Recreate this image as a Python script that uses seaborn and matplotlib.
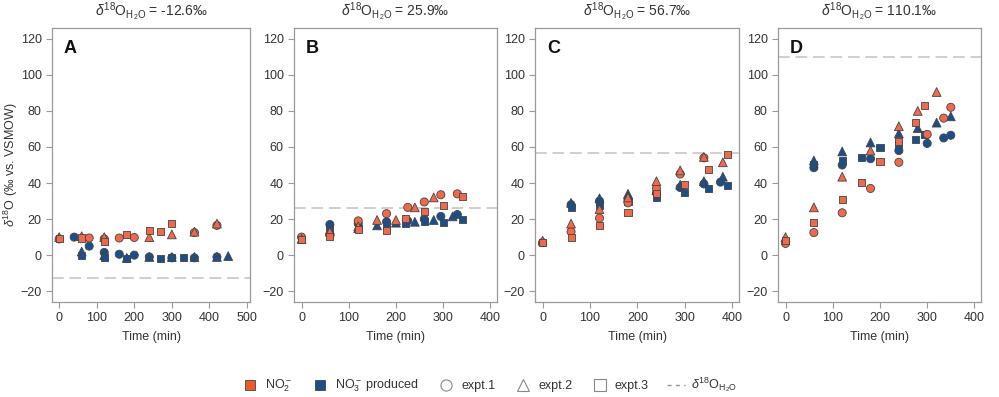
import matplotlib
matplotlib.use("Agg")
import matplotlib.pyplot as plt
from matplotlib.lines import Line2D
import seaborn as sns
import pandas as pd

sns.set_theme(style="ticks")
plt.rcParams["font.family"] = ["Liberation Sans", "DejaVu Sans"]
plt.rcParams["mathtext.fontset"] = "custom"
plt.rcParams["mathtext.rm"] = "Liberation Sans"
plt.rcParams["mathtext.it"] = "Liberation Sans:italic"
plt.rcParams["mathtext.bf"] = "Liberation Sans:bold"

# ── data ────────────────────────────────────────────────────────────────
PANELS = ["A", "B", "C", "D"]
WATER_D18O = [-12.6, 25.9, 56.7, 110.1]
WATER_TXT = ["-12.6", "25.9", "56.7", "110.1"]
X_TICKS = [[0, 100, 200, 300, 400, 500], [0, 100, 200, 300, 400],
           [0, 100, 200, 300, 400], [0, 100, 200, 300, 400]]
Y_TICKS = [-20, 0, 20, 40, 60, 80, 100, 120]

# panel A
a_no2_e1_t = [0, 80, 120, 160, 200, 360, 420]
a_no2_e1_v = [9, 9.5, 9, 9.5, 9.8, 12.5, 16.5]
a_no2_e2_t = [0, 60, 120, 240, 300, 360, 420]
a_no2_e2_v = [10, 10.5, 10, 10, 11.5, 13, 17.5]
a_no2_e3_t = [0, 60, 120, 180, 240, 270, 300]
a_no2_e3_v = [9, 9.5, 7.5, 11.5, 13.5, 13, 17.5]
a_no3_e1_t = [40, 80, 120, 160, 200, 240, 300, 360, 420]
a_no3_e1_v = [10, 5, 1.5, 0.5, 0, -1, -1.5, -1.5, -1]
a_no3_e2_t = [60, 120, 180, 240, 300, 360, 420, 450]
a_no3_e2_v = [2, 0, -1.5, -1, -1, -1, -1, -0.5]
a_no3_e3_t = [60, 120, 180, 270, 300, 330]
a_no3_e3_v = [0, -1.5, -2, -2, -1.5, -1.5]

# panel B
b_no2_e1_t = [0, 60, 120, 180, 225, 260, 295, 330]
b_no2_e1_v = [10, 11.5, 19, 23, 26.5, 29.5, 33.5, 34]
b_no2_e2_t = [0, 60, 120, 160, 200, 240, 280]
b_no2_e2_v = [9, 13, 16, 19.5, 19.5, 26.5, 32]
b_no2_e3_t = [0, 60, 120, 180, 220, 260, 300, 340]
b_no2_e3_v = [8.5, 10.5, 14, 13.5, 20.5, 24, 27.5, 32.5]
b_no3_e1_t = [60, 120, 180, 225, 260, 295, 330]
b_no3_e1_v = [17, 17.5, 18.5, 19, 20, 21.5, 22.5]
b_no3_e2_t = [60, 120, 160, 200, 240, 280, 320]
b_no3_e2_v = [14, 15, 16.5, 18, 18.5, 19.5, 21.5]
b_no3_e3_t = [60, 120, 180, 220, 260, 300, 340]
b_no3_e3_v = [15, 15, 16.5, 17.5, 18.5, 18, 20]

# panel C
c_no2_e1_t = [0, 60, 120, 180, 240, 290, 340]
c_no2_e1_v = [7, 13, 20.5, 29, 37, 45, 54]
c_no2_e2_t = [0, 60, 120, 180, 240, 290, 340, 380]
c_no2_e2_v = [8, 17.5, 25.5, 32, 41, 47, 54.5, 51.5]
c_no2_e3_t = [0, 60, 120, 180, 240, 300, 350, 390]
c_no2_e3_v = [7, 10, 16.5, 23.5, 34, 39, 47.5, 56]
c_no3_e1_t = [60, 120, 180, 240, 290, 340, 375]
c_no3_e1_v = [28, 30, 31, 34.5, 37.5, 39.5, 40.5]
c_no3_e2_t = [60, 120, 180, 240, 290, 340, 380]
c_no3_e2_v = [29, 31.5, 34, 36, 39, 41, 43.5]
c_no3_e3_t = [60, 120, 180, 240, 300, 350, 390]
c_no3_e3_v = [26.5, 27.5, 30, 32, 34.5, 37, 38.5]

# panel D
d_no2_e1_t = [0, 60, 120, 180, 240, 300, 335, 350]
d_no2_e1_v = [6.5, 12.5, 23.5, 37, 51.5, 67, 76, 82]
d_no2_e2_t = [0, 60, 120, 180, 240, 280, 320]
d_no2_e2_v = [10, 26.5, 43.5, 58, 71.5, 80, 90.5]
d_no2_e3_t = [0, 60, 120, 160, 200, 240, 275, 295]
d_no2_e3_v = [8, 18, 31, 40.5, 52, 63, 73.5, 83]
d_no3_e1_t = [60, 120, 180, 240, 300, 335, 350]
d_no3_e1_v = [48.5, 50, 53.5, 58, 62, 65, 66.5]
d_no3_e2_t = [60, 120, 180, 240, 280, 320, 350]
d_no3_e2_v = [52.5, 57.5, 62.5, 67.5, 70.5, 73.5, 77]
d_no3_e3_t = [60, 120, 160, 200, 240, 275, 295]
d_no3_e3_v = [50, 52.5, 54, 59.5, 61.5, 64, 67]

SERIES = {
    "A": [("NO3", "expt.1", a_no3_e1_t, a_no3_e1_v), ("NO3", "expt.2", a_no3_e2_t, a_no3_e2_v),
          ("NO3", "expt.3", a_no3_e3_t, a_no3_e3_v), ("NO2", "expt.1", a_no2_e1_t, a_no2_e1_v),
          ("NO2", "expt.2", a_no2_e2_t, a_no2_e2_v), ("NO2", "expt.3", a_no2_e3_t, a_no2_e3_v)],
    "B": [("NO3", "expt.1", b_no3_e1_t, b_no3_e1_v), ("NO3", "expt.2", b_no3_e2_t, b_no3_e2_v),
          ("NO3", "expt.3", b_no3_e3_t, b_no3_e3_v), ("NO2", "expt.1", b_no2_e1_t, b_no2_e1_v),
          ("NO2", "expt.2", b_no2_e2_t, b_no2_e2_v), ("NO2", "expt.3", b_no2_e3_t, b_no2_e3_v)],
    "C": [("NO3", "expt.1", c_no3_e1_t, c_no3_e1_v), ("NO3", "expt.2", c_no3_e2_t, c_no3_e2_v),
          ("NO3", "expt.3", c_no3_e3_t, c_no3_e3_v), ("NO2", "expt.1", c_no2_e1_t, c_no2_e1_v),
          ("NO2", "expt.2", c_no2_e2_t, c_no2_e2_v), ("NO2", "expt.3", c_no2_e3_t, c_no2_e3_v)],
    "D": [("NO3", "expt.1", d_no3_e1_t, d_no3_e1_v), ("NO3", "expt.2", d_no3_e2_t, d_no3_e2_v),
          ("NO3", "expt.3", d_no3_e3_t, d_no3_e3_v), ("NO2", "expt.1", d_no2_e1_t, d_no2_e1_v),
          ("NO2", "expt.2", d_no2_e2_t, d_no2_e2_v), ("NO2", "expt.3", d_no2_e3_t, d_no2_e3_v)],
}

COLORS = {"NO2": "#F0694B", "NO3": "#1B4F8C"}
MARKERS = {"expt.1": "o", "expt.2": "^", "expt.3": "s"}
SIZES = {"expt.1": 34, "expt.2": 40, "expt.3": 26}
SPINE = "#9A9A9A"
TXT = "#333333"

rows = []
for p in PANELS:
    for species, expt, ts, vs in SERIES[p]:
        for t, v in zip(ts, vs):
            rows.append({"panel": p, "species": species, "expt": expt, "time": t, "d18O": v})
df = pd.DataFrame(rows)

fig = plt.figure(figsize=(9.99, 3.97), dpi=100)
lefts = [52, 294, 535, 778]
widths = [198, 203, 204, 203]

for i, p in enumerate(PANELS):
    ax = fig.add_axes([lefts[i] / 999, 1 - 302 / 397, widths[i] / 999, 274 / 397])
    sub = df[df["panel"] == p]
    for species in ["NO3", "NO2"]:
        s = sub[sub["species"] == species]
        sns.scatterplot(data=s, x="time", y="d18O", style="expt", markers=MARKERS,
                        size="expt", sizes=SIZES,
                        color=COLORS[species], edgecolor="#444444", linewidth=0.6,
                        legend=False, ax=ax, zorder=3)
    ax.axhline(WATER_D18O[i], color="#CFCFCF", lw=1.4, ls=(0, (6, 3)), zorder=1)
    ax.set_xticks(X_TICKS[i])
    ax.set_yticks(Y_TICKS)
    ax.set_xlim(-19 if i == 0 else -16, 508 if i == 0 else 414)
    ax.set_ylim(-26, 126)
    ax.set_xlabel("Time (min)", fontsize=9, color=TXT, labelpad=5)
    if i == 0:
        ax.set_ylabel(r"$\it{\delta}^{18}$O (‰ vs. VSMOW)", fontsize=9, color=TXT)
        ax.yaxis.set_label_coords(-0.16, 0.5)
    else:
        ax.set_ylabel("")
    ax.tick_params(labelsize=9, colors=SPINE, labelcolor=TXT, length=4, width=0.8)
    for sp in ax.spines.values():
        sp.set_color(SPINE)
        sp.set_linewidth(0.9)
    ax.text(0.06, 0.955, p, transform=ax.transAxes, fontsize=13, fontweight="bold",
            va="top", ha="left", color="#111111")
    ax.set_title(r"$\it{\delta}^{18}$O$_{\mathrm{H_2O}}$ = " + WATER_TXT[i] + "‰",
                 fontsize=10, color=TXT, pad=9)

handles = [
    Line2D([], [], ls="", marker="s", ms=7, mfc="#F05A28", mec="#444444", mew=0.6),
    Line2D([], [], ls="", marker="s", ms=7, mfc="#1B4F8C", mec="#444444", mew=0.6),
    Line2D([], [], ls="", marker="o", ms=8, mfc="white", mec="#888888", mew=0.8),
    Line2D([], [], ls="", marker="^", ms=8, mfc="white", mec="#888888", mew=0.8),
    Line2D([], [], ls="", marker="s", ms=8, mfc="white", mec="#888888", mew=0.8),
    Line2D([], [], color="#999999", lw=1.0, ls=(0, (3, 3))),
]
labels = [r"NO$_2^-$", r"NO$_3^-$ produced", "expt.1", "expt.2", "expt.3",
          r"$\it{\delta}^{18}$O$_{\mathrm{H_2O}}$"]
fig.legend(handles, labels, loc="center", bbox_to_anchor=(0.49, 0.03), ncol=6,
           frameon=False, fontsize=9, handlelength=1.4, handletextpad=0.5,
           columnspacing=1.5, labelcolor=TXT)

fig.savefig("out.png", dpi=100)
